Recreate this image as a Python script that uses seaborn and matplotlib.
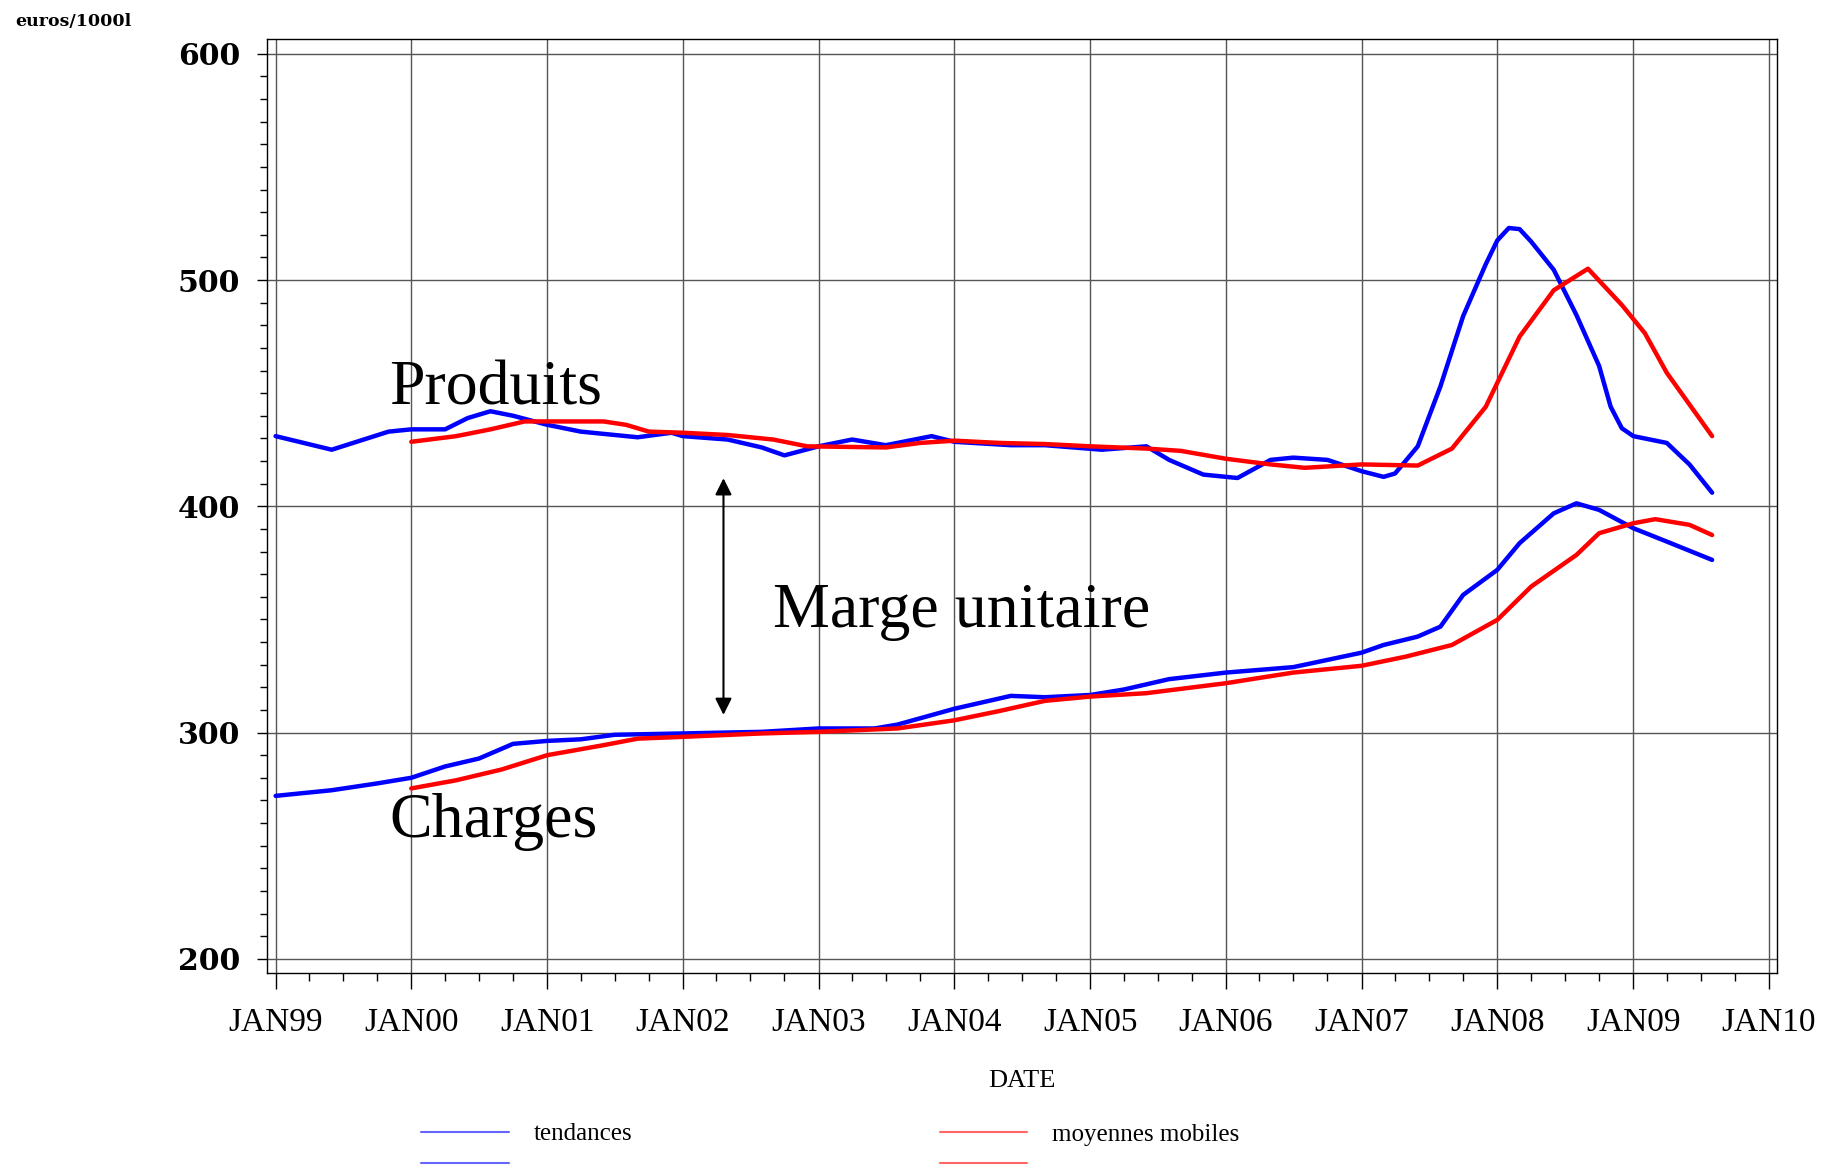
"""
Produits et charges par 1000 l : tendances et moyennes mobiles
"""
import matplotlib
matplotlib.use("Agg")
import matplotlib.pyplot as plt
import matplotlib.dates as mdates
from matplotlib.lines import Line2D
from matplotlib.ticker import MultipleLocator
import pandas as pd
import seaborn as sns


# Produits - tendances (bleu)
PROD_TEND_DATES = ["1999-01", "1999-06", "1999-11", "2000-01", "2000-04", "2000-06", "2000-08",
                   "2000-10", "2001-01", "2001-04", "2001-09", "2001-12", "2002-01", "2002-05",
                   "2002-08", "2002-10", "2003-01", "2003-04", "2003-07", "2003-11", "2004-01",
                   "2004-06", "2004-09", "2005-02", "2005-06", "2005-08", "2005-11", "2006-02",
                   "2006-05", "2006-07", "2006-10", "2007-01", "2007-03", "2007-04", "2007-06",
                   "2007-08", "2007-10", "2007-12", "2008-01", "2008-02", "2008-03", "2008-04",
                   "2008-06", "2008-08", "2008-10", "2008-11", "2008-12", "2009-01", "2009-04",
                   "2009-06", "2009-08"]
PROD_TEND_VALS = [431, 425, 433, 434, 434, 439, 442, 440, 436, 433, 430.5, 432.5, 431, 429.5,
                  426, 422.5, 426.5, 429.5, 427, 431, 428.5, 427, 427, 425, 426.5, 420.5, 414,
                  412.5, 420.5, 421.5, 420.5, 415.5, 413, 414.5, 426.5, 453, 484, 507, 517.5,
                  523, 522.5, 517, 504.5, 484.5, 462, 444, 434.5, 431, 428, 418.5, 406]

# Produits - moyennes mobiles (rouge)
PROD_MM_DATES = ["2000-01", "2000-05", "2000-08", "2000-11", "2001-01", "2001-06", "2001-08",
                 "2001-10", "2002-01", "2002-05", "2002-09", "2002-12", "2003-07", "2003-10",
                 "2004-01", "2004-05", "2004-09", "2005-01", "2005-06", "2005-09", "2006-01",
                 "2006-05", "2006-08", "2007-01", "2007-06", "2007-09", "2007-12", "2008-03",
                 "2008-06", "2008-09", "2008-12", "2009-02", "2009-04", "2009-08"]
PROD_MM_VALS = [428.5, 431, 434, 437.5, 437.5, 437.5, 436, 433, 432.5, 431.5, 429.5, 426.5,
                426, 428, 429, 428, 427.5, 426.5, 425.5, 424.5, 421, 418.5, 417, 418.5, 418,
                425.5, 444, 475, 495.5, 505, 489, 476.5, 459, 431]

# Charges - tendances (bleu)
CHG_TEND_DATES = ["1999-01", "1999-06", "1999-10", "2000-01", "2000-04", "2000-07", "2000-10",
                  "2001-01", "2001-04", "2001-07", "2002-01", "2002-08", "2003-01", "2003-06",
                  "2003-08", "2004-01", "2004-06", "2004-09", "2005-01", "2005-04", "2005-08",
                  "2006-01", "2006-07", "2007-01", "2007-03", "2007-06", "2007-08", "2007-10",
                  "2008-01", "2008-03", "2008-06", "2008-08", "2008-10", "2009-01", "2009-04",
                  "2009-08"]
CHG_TEND_VALS = [272, 274.5, 277.5, 280, 285, 288.5, 295, 296.3, 297, 299, 299.6, 300.3, 301.8,
                 301.8, 303.5, 310.5, 316.2, 315.6, 316.6, 319, 323.6, 326.5, 328.9, 335.3,
                 338.7, 342.4, 346.8, 360.8, 371.9, 383.7, 396.9, 401.3, 398.4, 390.3, 384.4,
                 376.3]

# Charges - moyennes mobiles (rouge)
CHG_MM_DATES = ["2000-01", "2000-05", "2000-09", "2001-01", "2001-06", "2001-09", "2002-01",
                "2002-08", "2003-01", "2003-08", "2004-01", "2004-05", "2004-09", "2005-01",
                "2005-06", "2006-01", "2006-07", "2007-01", "2007-05", "2007-09", "2008-01",
                "2008-04", "2008-08", "2008-10", "2009-01", "2009-03", "2009-06", "2009-08"]
CHG_MM_VALS = [275.3, 278.9, 283.7, 290, 294.4, 297.3, 298.1, 299.6, 300.3, 301.8, 305.4, 309.5,
               314, 315.9, 317.4, 321.8, 326.5, 329.5, 333.6, 338.7, 349.8, 364.5, 378.5, 388.1,
               392.5, 394.3, 391.8, 387.3]

YEAR_TICKS = ["1999-01", "2000-01", "2001-01", "2002-01", "2003-01", "2004-01", "2005-01",
              "2006-01", "2007-01", "2008-01", "2009-01", "2010-01"]
YEAR_LABELS = ["JAN99", "JAN00", "JAN01", "JAN02", "JAN03", "JAN04", "JAN05", "JAN06",
               "JAN07", "JAN08", "JAN09", "JAN10"]
Y_TICKS = [200, 300, 400, 500, 600]

COLORS = {"tendances": "#0000ff", "moyennes mobiles": "#ff0000"}


def build_frame():
    parts = []
    for serie, kind, dates, vals in [
        ("Produits", "tendances", PROD_TEND_DATES, PROD_TEND_VALS),
        ("Produits", "moyennes mobiles", PROD_MM_DATES, PROD_MM_VALS),
        ("Charges", "tendances", CHG_TEND_DATES, CHG_TEND_VALS),
        ("Charges", "moyennes mobiles", CHG_MM_DATES, CHG_MM_VALS),
    ]:
        parts.append(pd.DataFrame({"date": pd.to_datetime(dates), "valeur": vals,
                                   "serie": serie, "type": kind}))
    return pd.concat(parts, ignore_index=True)


def main():
    sns.set_style("white")
    plt.rcParams["text.color"] = "black"
    plt.rcParams["xtick.color"] = "black"
    plt.rcParams["ytick.color"] = "black"
    plt.rcParams["axes.labelcolor"] = "black"
    serif = "Liberation Serif"

    df = build_frame()
    fig = plt.figure(figsize=(18.38, 11.66), dpi=100)
    ax = fig.add_axes([0.1451, 0.1653, 0.8216, 0.8010])

    sns.lineplot(data=df, x="date", y="valeur", hue="type", units="serie", estimator=None,
                 hue_order=["tendances", "moyennes mobiles"], palette=COLORS,
                 lw=3.2, legend=False, ax=ax)

    ax.set_xlim(pd.Timestamp("1998-12-08"), pd.Timestamp("2010-01-22"))
    ax.set_ylim(193.6, 606.4)

    ax.set_xticks(mdates.date2num(pd.to_datetime(YEAR_TICKS)))
    ax.set_xticklabels(YEAR_LABELS, fontfamily=serif, fontsize=24, color="black")
    ax.xaxis.set_minor_locator(mdates.MonthLocator(bymonth=[4, 7, 10]))
    ax.set_yticks(Y_TICKS)
    ax.set_yticklabels([str(v) for v in Y_TICKS], fontfamily="DejaVu Serif",
                       fontweight="bold", fontsize=21.5, color="black")
    ax.yaxis.set_minor_locator(MultipleLocator(10))

    ax.tick_params(axis="y", which="major", left=True, direction="out", length=7.2,
                   width=1, color="black", pad=12)
    ax.tick_params(axis="y", which="minor", left=True, direction="out", length=5,
                   width=1, color="black")
    ax.tick_params(axis="x", which="major", bottom=True, direction="out", length=11.5,
                   width=1, color="black", pad=13)
    ax.tick_params(axis="x", which="minor", bottom=True, direction="out", length=5.8,
                   width=1, color="black")

    ax.grid(True, which="major", color="#555555", lw=1)
    for sp in ax.spines.values():
        sp.set_color("black")
        sp.set_linewidth(1)

    ax.set_xlabel("DATE", fontfamily=serif, fontsize=19, color="black")
    ax.xaxis.set_label_coords(0.5, -0.1035)
    ax.set_ylabel("")
    fig.text(15 / 1838, 1 - 21.6 / 1166, "euros/1000l", fontfamily="DejaVu Serif",
             fontweight="bold", fontsize=12.5, ha="left", va="center", color="black")

    # annotations
    ax.text(pd.Timestamp("1999-11-03"), 445.2, "Produits", fontfamily=serif, fontsize=46,
            va="baseline", ha="left", color="black")
    ax.text(pd.Timestamp("2002-09-01"), 346.6, "Marge unitaire", fontfamily=serif, fontsize=46,
            va="baseline", ha="left", color="black")
    ax.text(pd.Timestamp("1999-11-03"), 253.8, "Charges", fontfamily=serif, fontsize=46,
            va="baseline", ha="left", color="black")
    xa = pd.Timestamp("2002-04-20")
    ax.annotate("", xy=(xa, 307.8), xytext=(xa, 412.4),
                arrowprops=dict(arrowstyle="<|-|>", color="black", lw=1.5,
                                mutation_scale=25, shrinkA=0, shrinkB=0))

    # legend: two sample lines per entry
    blue = (0.4, 0.4, 1.0)
    red = (1.0, 0.4, 0.4)
    handles = [Line2D([], [], color=blue, lw=1.5), Line2D([], [], color=blue, lw=1.5),
               Line2D([], [], color=red, lw=1.5), Line2D([], [], color=red, lw=1.5)]
    fig.legend(handles, ["tendances", "", "moyennes mobiles", ""], ncol=2, loc="upper left",
               bbox_to_anchor=(421 / 1838, 1 - 1123 / 1166), frameon=False, borderpad=0,
               borderaxespad=0, handlelength=3.5, handletextpad=1.0, columnspacing=12.3,
               labelspacing=0.33, prop=dict(family=serif, size=18), labelcolor="black")

    fig.savefig("out.png", dpi=100)
    plt.close(fig)


if __name__ == "__main__":
    main()
